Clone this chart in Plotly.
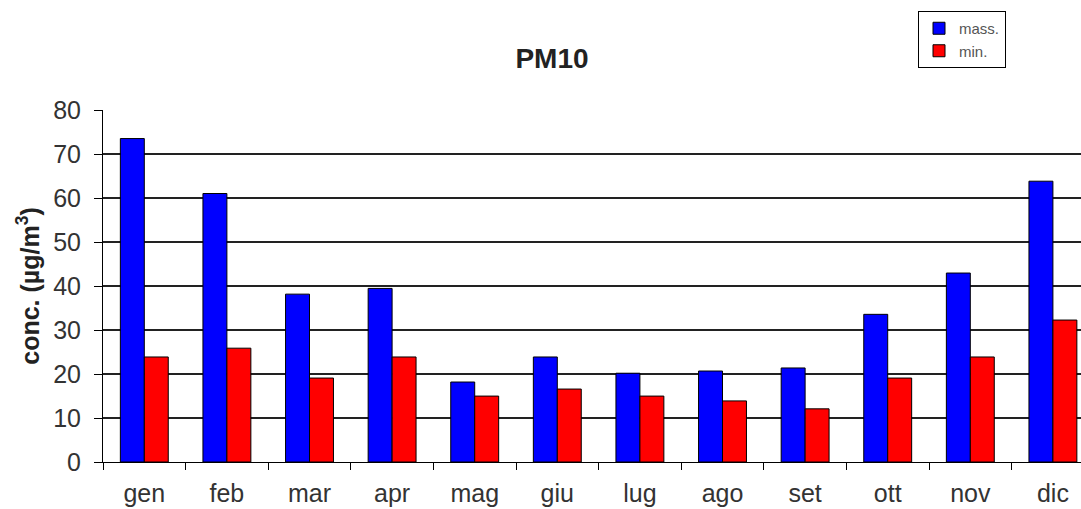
import plotly.graph_objects as go

months = ["gen", "feb", "mar", "apr", "mag", "giu", "lug", "ago", "set", "ott", "nov", "dic"]
pm10_max = [73.6, 61.1, 38.2, 39.5, 18.2, 23.9, 20.2, 20.7, 21.4, 33.6, 43.0, 63.9]
pm10_min = [23.9, 25.9, 19.1, 23.9, 15.0, 16.6, 15.0, 13.9, 12.1, 19.1, 23.9, 32.3]
y_ticks = [0, 10, 20, 30, 40, 50, 60, 70, 80]

W, H = 1081, 509
FONT = "Liberation Sans, Arial, sans-serif"

fig = go.Figure()
fig.add_trace(go.Bar(
    x=months, y=pm10_max, name="mass.", legendgroup="a",
    marker=dict(color="#0000FF", line=dict(color="#000000", width=1)),
))
fig.add_trace(go.Bar(
    x=months, y=pm10_min, name="min.", legendgroup="b",
    marker=dict(color="#FF0000", line=dict(color="#000000", width=1)),
))

fig.update_layout(
    width=W, height=H,
    margin=dict(l=103, r=0, t=110, b=47, autoexpand=False),
    paper_bgcolor="white", plot_bgcolor="white",
    barmode="group", bargap=0.42, bargroupgap=0,
    font=dict(family=FONT, color="#333333"),
    title=dict(
        text="<b>PM10</b>", font=dict(family=FONT, size=28, color="#222222"),
        x=552 / W, xref="container", xanchor="center",
        y=1 - 58 / H, yref="container", yanchor="middle",
    ),
    showlegend=True,
    legend=dict(
        xref="container", yref="container",
        x=918 / W, y=1 - 11 / H, xanchor="left", yanchor="top",
        bgcolor="white", bordercolor="#000000", borderwidth=1,
        font=dict(family=FONT, size=15, color="#555555"),
        tracegroupgap=0, itemwidth=30,
    ),
    xaxis=dict(
        type="category", range=[-0.5, 11.34],
        tickson="boundaries", ticks="outside", ticklen=7, tickcolor="#000000",
        showline=True, linecolor="#000000", linewidth=1,
        showgrid=False, tickfont=dict(family=FONT, size=25, color="#333333"),
        ticklabelstandoff=9,
    ),
    yaxis=dict(
        range=[0, 80.1], tickvals=y_ticks,
        ticks="outside", ticklen=8, tickcolor="#000000",
        showline=True, linecolor="#000000", linewidth=1,
        showgrid=True, gridcolor="#222222", gridwidth=1.5,
        zeroline=False, ticklabelstandoff=8,
        tickfont=dict(family=FONT, size=25, color="#333333"),
        title=dict(text="<b>conc. (µg/m<sup>3</sup>)</b>",
                   font=dict(family=FONT, size=25, color="#222222"), standoff=6),
    ),
)

fig.write_html("out.html")
